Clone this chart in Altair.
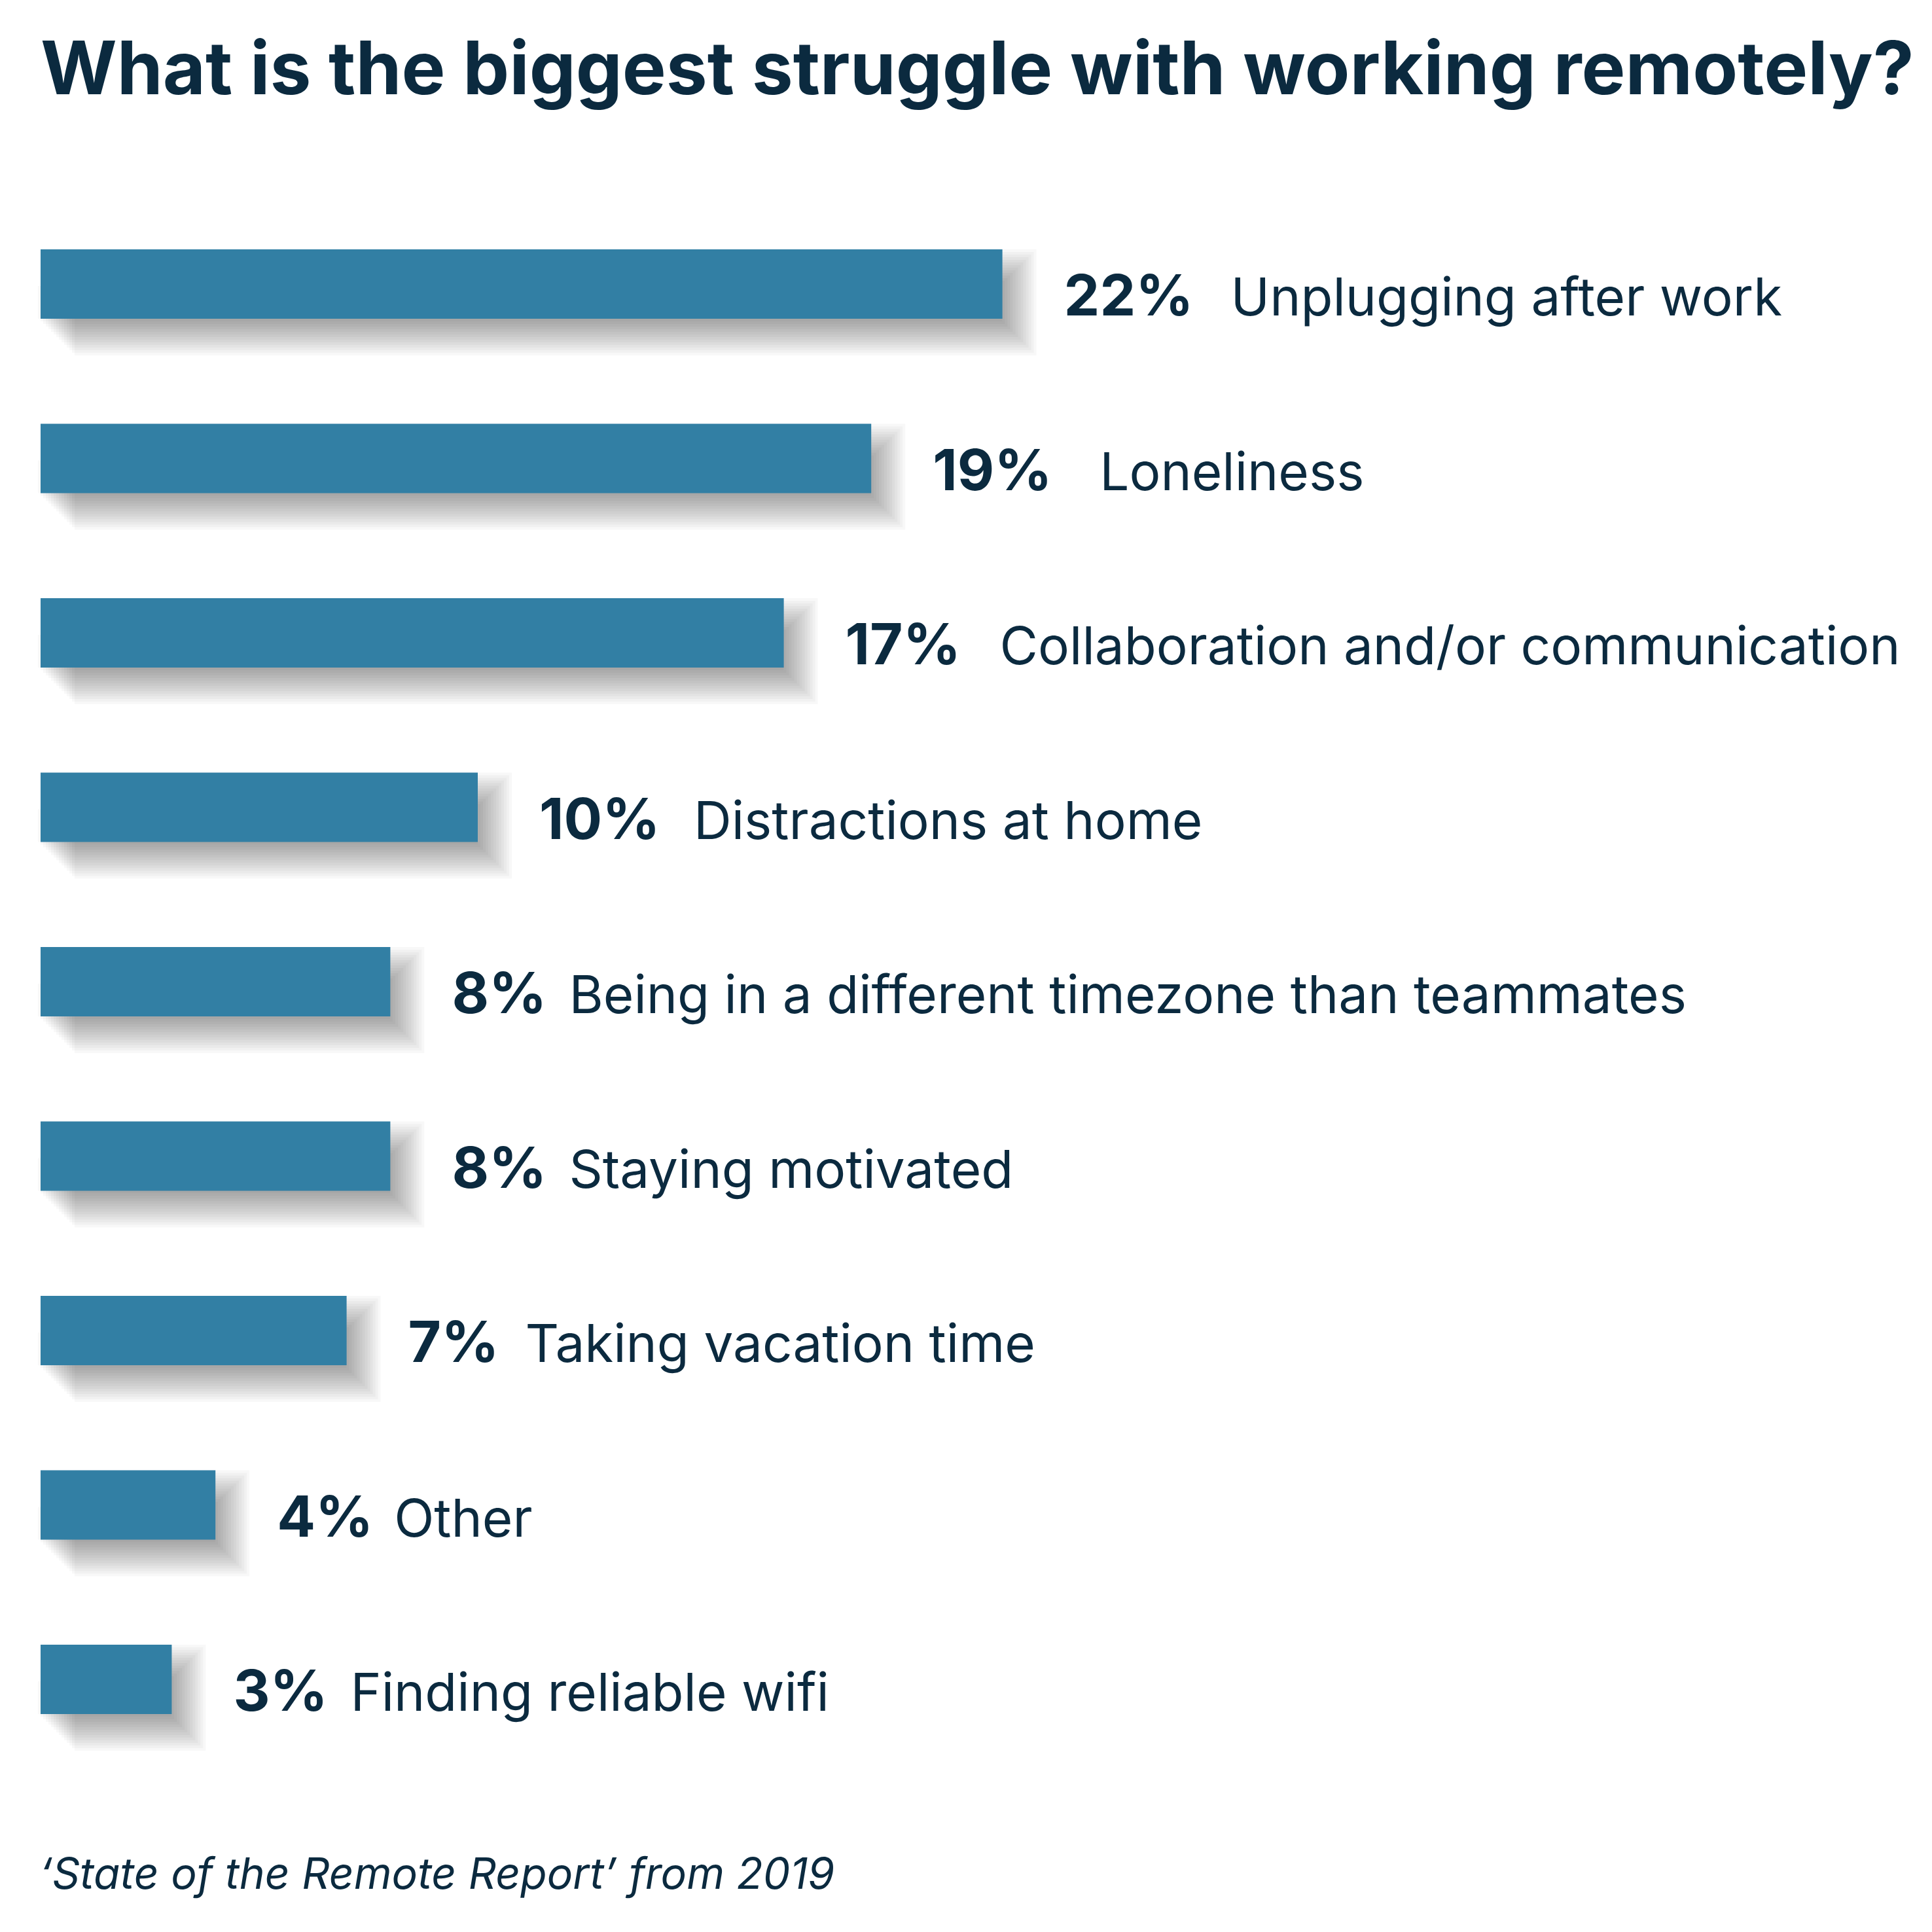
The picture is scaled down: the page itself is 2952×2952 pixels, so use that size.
import altair as alt
import pandas as pd

categories = [
    "Unplugging after work",
    "Loneliness",
    "Collaboration and/or communication",
    "Distractions at home",
    "Being in a different timezone than teammates",
    "Staying motivated",
    "Taking vacation time",
    "Other",
    "Finding reliable wifi",
]
values = [22, 19, 17, 10, 8, 8, 7, 4, 3]
title_text = "What is the biggest struggle with working remotely?"
source_text = "\u2018State of the Remote Report\u2019 from 2019"

df = pd.DataFrame({"category": categories, "value": values})

W = 2882
H = 2398.5
PX_PER_PCT = 66.8
XDOM = W / PX_PER_PCT
TOP = 292.75 + 8

BAR = "#327FA4"
INK = "#0B2A3F"
FONT = "Inter"

xscale = alt.Scale(domain=[0, XDOM], nice=False, zero=True)
x = alt.X("value:Q", scale=xscale, axis=None)
y = alt.Y("category:N", sort=categories,
          scale=alt.Scale(paddingInner=0.602, paddingOuter=0.301), axis=None)

base = alt.Chart(df)

# soft drop shadow built from stacked translucent rectangles
shadows = []
for e in range(-28, 29, 4):
    shadows.append(
        base.mark_bar(color="#000000", opacity=0.027, size=max(106 + 2 * e, 2),
                      xOffset=24 + e, x2Offset=30 - e, yOffset=28)
        .encode(x=x, y=y)
    )

bars = base.mark_bar(color=BAR, size=106).encode(x=x, y=y)

pct = base.transform_calculate(
    pct="format(datum.value, 'd') + '%'"
).mark_text(
    align="left", baseline="alphabetic", dx=94, dy=48,
    font=FONT, fontSize=87, fontWeight=700, color=INK
).encode(x=x, y=y, text="pct:N")

lab = base.transform_calculate(
    lx=("datum.value + (datum.value >= 18 ? 349 : datum.value >= 10 ? 330 : 273) / "
        f"{PX_PER_PCT}")
).mark_text(
    align="left", baseline="alphabetic", dy=48,
    font=FONT, fontSize=80, fontWeight=400, color=INK
).encode(x=alt.X("lx:Q", scale=xscale, axis=None), y=y, text="category:N")

title = alt.Chart(pd.DataFrame({"t": [title_text]})).mark_text(
    align="left", baseline="alphabetic",
    font=FONT, fontSize=112.5, fontWeight=700, color=INK
).encode(x=alt.value(0), y=alt.value(144 - TOP), text="t:N")

foot = alt.Chart(pd.DataFrame({"t": [source_text]})).mark_text(
    align="left", baseline="alphabetic",
    font=FONT, fontSize=66, fontStyle="italic", fontWeight=400, color=INK
).encode(x=alt.value(-2), y=alt.value(2886 - TOP), text="t:N")

chart = alt.layer(*shadows, bars, pct, lab, title, foot).properties(
    width=W, height=H,
    padding={"left": 54, "top": 292.75, "right": 0, "bottom": 244.75},
    autosize=alt.AutoSizeParams(type="none"),
).configure_view(stroke=None)

chart.save("out.html", embed_options={"renderer": "svg", "actions": False})
